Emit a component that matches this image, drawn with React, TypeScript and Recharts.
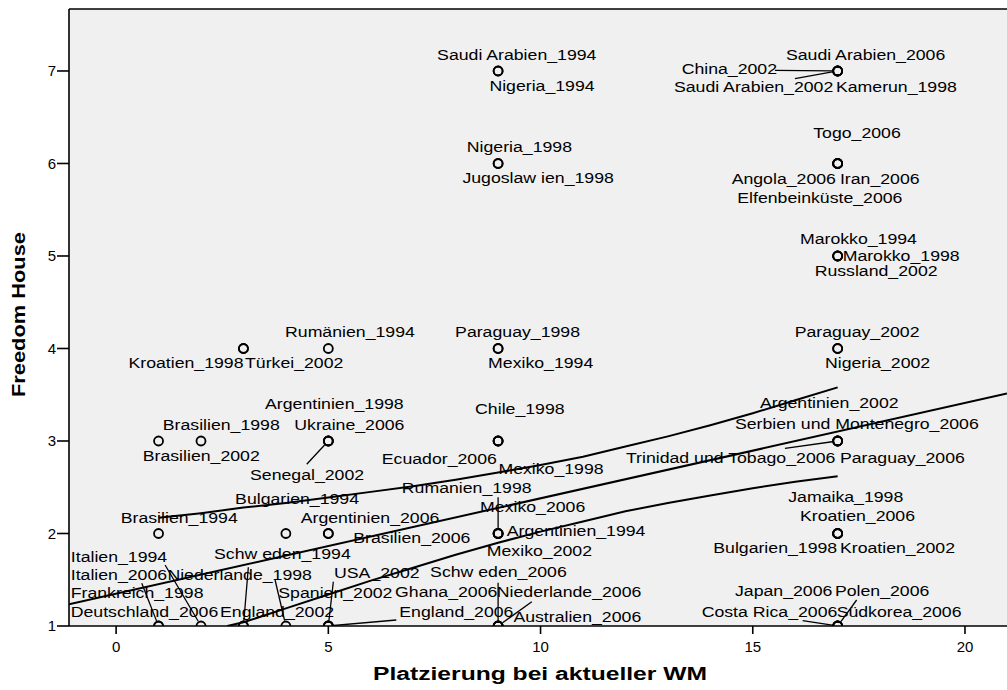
import React from 'react';
import { ScatterChart, Scatter, XAxis, YAxis, CartesianGrid, ReferenceLine, Label } from 'recharts';

/* ── Data ─────────────────────────────────────────── */
const X_TICKS = [0, 5, 10, 15, 20];
const Y_TICKS = [1, 2, 3, 4, 5, 6, 7];
const X_DOMAIN: [number, number] = [-1.11, 20.99];
const Y_DOMAIN: [number, number] = [1, 7.67];

// one entry per case (Land_Jahr)
const CASE_NAMES = [
    'Italien_2006', 'Frankreich_1998', 'Italien_1994', 'Schw eden_1994', 'Deutschland_2006',
    'Niederlande_1998', 'England_2002', 'USA_2002', 'Spanien_2002', 'England_2006',
    'Brasilien_1994', 'Bulgarien_1994', 'Argentinien_2006', 'Brasilien_2006',
    'Brasilien_2002', 'Brasilien_1998', 'Argentinien_1998', 'Ukraine_2006', 'Senegal_2002',
    'Kroatien_1998', 'Türkei_2002', 'Rumänien_1994',
    'Saudi Arabien_1994', 'Nigeria_1994', 'Nigeria_1998', 'Jugoslaw ien_1998',
    'Paraguay_1998', 'Mexiko_1994', 'Chile_1998', 'Ecuador_2006', 'Mexiko_1998',
    'Rumanien_1998', 'Mexiko_2006', 'Argentinien_1994', 'Mexiko_2002',
    'Schw eden_2006', 'Ghana_2006', 'Niederlande_2006', 'Australien_2006',
    'Saudi Arabien_2006', 'China_2002', 'Saudi Arabien_2002', 'Kamerun_1998',
    'Togo_2006', 'Angola_2006', 'Iran_2006', 'Elfenbeinküste_2006',
    'Marokko_1994', 'Marokko_1998', 'Russland_2002',
    'Paraguay_2002', 'Nigeria_2002',
    'Argentinien_2002', 'Serbien und Montenegro_2006', 'Trinidad und Tobago_2006', 'Paraguay_2006',
    'Jamaika_1998', 'Kroatien_2006', 'Bulgarien_1998', 'Kroatien_2002',
    'Japan_2006', 'Polen_2006', 'Costa Rica_2006', 'Südkorea_2006',
];

// Platzierung bei aktueller WM
const PLACEMENT = [
    1, 1, 2, 3, 3, 4, 5, 5, 5, 5,
    1, 4, 5, 5,
    1, 2, 5, 5, 5,
    3, 3, 5,
    9, 9, 9, 9, 9, 9, 9, 9, 9, 9, 9, 9, 9, 9, 9, 9, 9,
    17, 17, 17, 17, 17, 17, 17, 17, 17, 17, 17, 17, 17,
    17, 17, 17, 17, 17, 17, 17, 17, 17, 17, 17, 17,
];

// Freedom House
const FREEDOM = [
    1, 1, 1, 1, 1, 1, 1, 1, 1, 1,
    2, 2, 2, 2,
    3, 3, 3, 3, 3,
    4, 4, 4,
    7, 7, 6, 6, 4, 4, 3, 3, 3, 2, 2, 2, 2, 1, 1, 1, 1,
    7, 7, 7, 7, 6, 6, 6, 6, 5, 5, 5, 4, 4,
    3, 3, 3, 3, 2, 2, 2, 2, 1, 1, 1, 1,
];

// Regression line (total) and mean confidence bounds
const FIT_X = [-1.11, 20.99];
const FIT_Y = [1.235, 3.513];
const UPPER_X = [1, 2, 3, 4, 5, 6, 7, 8, 9, 10, 11, 12, 13, 14, 15, 16, 17];
const UPPER_Y = [2.17, 2.22, 2.28, 2.33, 2.39, 2.45, 2.51, 2.58, 2.66, 2.74, 2.83, 2.94, 3.05, 3.17, 3.30, 3.44, 3.58];
const LOWER_X = [2.62, 3, 4, 5, 6, 7, 8, 9, 10, 11, 12, 13, 14, 15, 16, 17];
const LOWER_Y = [1.0, 1.04, 1.19, 1.34, 1.49, 1.63, 1.77, 1.90, 2.02, 2.13, 2.24, 2.33, 2.41, 2.49, 2.56, 2.62];

/* ── Label placement (px offsets from the point) ──── */
// [dx to text start, dy to baseline, leader start dx, leader start dy]
const LABEL_POS: Record<string, number[]> = {
    'Italien_2006': [-87.8, -46, -16.8, -42.7],
    'Frankreich_1998': [-87.8, -27.7],
    'Italien_1994': [-130.2, -64.3, -35.9, -61],
    'Schw eden_1994': [-29.4, -67, 4.9, -58.7],
    'Deutschland_2006': [-172.7, -9.3],
    'Niederlande_1998': [-118.5, -46, -10.8, -46],
    'England_2002': [-108.3, -9.3],
    'USA_2002': [5.7, -47.7, 5, -44.3],
    'Spanien_2002': [-50, -27.7],
    'England_2006': [71, -9.3, 68, -6],
    'Brasilien_1994': [-37.8, -10.9],
    'Bulgarien_1994': [-50.8, -29.6],
    'Argentinien_2006': [-27.6, -10.3],
    'Brasilien_2006': [25, 9.7],
    'Brasilien_2002': [-15.8, 20],
    'Brasilien_1998': [-38.2, -11.4],
    'Argentinien_1998': [-63.3, -32.4],
    'Ukraine_2006': [-34, -11.4],
    'Senegal_2002': [-78.3, 39.3, -21.6, 23.3],
    'Kroatien_1998': [-115, 20],
    'Türkei_2002': [1.6, 20],
    'Rumänien_1994': [-43.3, -11],
    'Saudi Arabien_1994': [-61, -10.7],
    'Nigeria_1994': [-8.7, 20],
    'Nigeria_1998': [-31.3, -11.6],
    'Jugoslaw ien_1998': [-35.7, 19.4],
    'Paraguay_1998': [-43, -11.6],
    'Mexiko_1994': [-10, 20],
    'Chile_1998': [-23, -26.7],
    'Ecuador_2006': [-116.3, 22.6],
    'Mexiko_1998': [0.3, 33.3],
    'Rumanien_1998': [-96.3, -40.3, 0, -36.3],
    'Mexiko_2006': [-18, -21],
    'Argentinien_1994': [8.7, 3],
    'Mexiko_2002': [-11.3, 22.4],
    'Schw eden_2006': [-68, -48.7, 0, -43.3],
    'Ghana_2006': [-103, -28.7],
    'Niederlande_2006': [-1.3, -28.7],
    'Australien_2006': [15.3, -4.3, 33.7, -24.3],
    'Saudi Arabien_2006': [-51.7, -11.4],
    'China_2002': [-156, 3.3, -62.7, -0.7],
    'Saudi Arabien_2002': [-163.7, 21, -42.7, 7.6],
    'Kamerun_1998': [-1.7, 21],
    'Togo_2006': [-24.4, -25],
    'Angola_2006': [-106, 21],
    'Iran_2006': [2.3, 21],
    'Elfenbeinküste_2006': [-100.4, 40],
    'Marokko_1994': [-37.7, -12],
    'Marokko_1998': [5, 5],
    'Russland_2002': [-23, 20],
    'Paraguay_2002': [-43, -11.6],
    'Nigeria_2002': [-12.7, 20],
    'Argentinien_2002': [-77.7, -33],
    'Serbien und Montenegro_2006': [-102.7, -12],
    'Trinidad und Tobago_2006': [-211.7, 21.7, -52.7, 7.3],
    'Paraguay_2006': [2.3, 21.7],
    'Jamaika_1998': [-49.4, -31.9],
    'Kroatien_2006': [-37.7, -12],
    'Bulgarien_1998': [-124.4, 19.7],
    'Kroatien_2002': [2.3, 19.7],
    'Japan_2006': [-102.7, -30],
    'Polen_2006': [-2.7, -30, 19, -26],
    'Costa Rica_2006': [-136, -8.7, -35, -5.3],
    'Südkorea_2006': [-1, -8.7],
};

const FONT = '"Liberation Sans", Arial, Helvetica, sans-serif';
const R = 4.5;

const cases = CASE_NAMES.map((name, i) => ({ name, x: PLACEMENT[i], y: FREEDOM[i] }));
const toPoints = (xs: number[], ys: number[]) => xs.map((x, i) => ({ x, y: ys[i] }));
const fitLine = toPoints(FIT_X, FIT_Y);
const upperLine = toPoints(UPPER_X, UPPER_Y);
const lowerLine = toPoints(LOWER_X, LOWER_Y);

/* ── Marks ────────────────────────────────────────── */
const CaseMark = (props: any) => {
    const { cx, cy, payload } = props;
    if (cx == null || cy == null) return <g />;
    const pos = LABEL_POS[payload.name] || [6, 4];
    const [dx, dy, lx, ly] = pos;
    let leader = null;
    if (lx !== undefined) {
        const len = Math.hypot(lx, ly);
        const k = (len - R - 1) / len;
        leader = (
            <line
                x1={cx + lx} y1={cy + ly}
                x2={cx + lx - lx * k} y2={cy + ly - ly * k}
                stroke="#000" strokeWidth={1.3}
            />
        );
    }
    return (
        <g>
            <circle cx={cx} cy={cy} r={R} fill="none" stroke="#000" strokeWidth={1.8} />
            {leader}
            <text
                transform={`translate(${cx + dx},${cy + dy}) scale(1.18,1)`}
                fontSize={15}
                fontFamily={FONT}
                fill="#000"
            >
                {payload.name}
            </text>
        </g>
    );
};

const NoMark = () => <g />;

const XTitle = () => (
    <text x={373} y={680} fontSize={18} fontWeight="bold" fontFamily={FONT} fill="#000"
        textLength={334} lengthAdjust="spacingAndGlyphs">
        Platzierung bei aktueller WM
    </text>
);

const YTitle = () => (
    <text transform="translate(25,397) rotate(-90)" fontSize={18} fontWeight="bold" fontFamily={FONT} fill="#000"
        textLength={165} lengthAdjust="spacingAndGlyphs">
        Freedom House
    </text>
);

const axisStroke = { stroke: '#000', strokeWidth: 1.6 };
const tickStyle = { fill: '#000', fontSize: 15, fontFamily: FONT };

export default function App() {
    return (
        <div style={{ position: 'absolute', left: 0, top: 0, width: 1007, height: 690, background: '#fff' }}>
            <ScatterChart width={1007} height={690} margin={{ top: 9, right: 0, bottom: 0, left: 0 }}>
                <CartesianGrid fill="#f0f0f0" stroke="none" horizontal={false} vertical={false} />
                <XAxis
                    type="number"
                    dataKey="x"
                    domain={X_DOMAIN}
                    ticks={X_TICKS}
                    allowDataOverflow
                    height={64}
                    tickSize={8}
                    tickMargin={7}
                    axisLine={axisStroke}
                    tickLine={axisStroke}
                    tick={tickStyle}
                >
                    <Label content={XTitle} />
                </XAxis>
                <YAxis
                    type="number"
                    dataKey="y"
                    domain={Y_DOMAIN}
                    ticks={Y_TICKS}
                    allowDataOverflow
                    width={69}
                    tickSize={12}
                    tickMargin={1}
                    axisLine={axisStroke}
                    tickLine={axisStroke}
                    tick={tickStyle}
                >
                    <Label content={YTitle} />
                </YAxis>
                <ReferenceLine y={Y_DOMAIN[1]} stroke="#000" strokeWidth={1.5} />
                <Scatter data={fitLine} line={{ stroke: '#000', strokeWidth: 2 }} shape={NoMark} isAnimationActive={false} />
                <Scatter data={upperLine} line={{ stroke: '#000', strokeWidth: 2 }} shape={NoMark} isAnimationActive={false} />
                <Scatter data={lowerLine} line={{ stroke: '#000', strokeWidth: 2 }} shape={NoMark} isAnimationActive={false} />
                <Scatter data={cases} shape={CaseMark} isAnimationActive={false} />
            </ScatterChart>
        </div>
    );
}
